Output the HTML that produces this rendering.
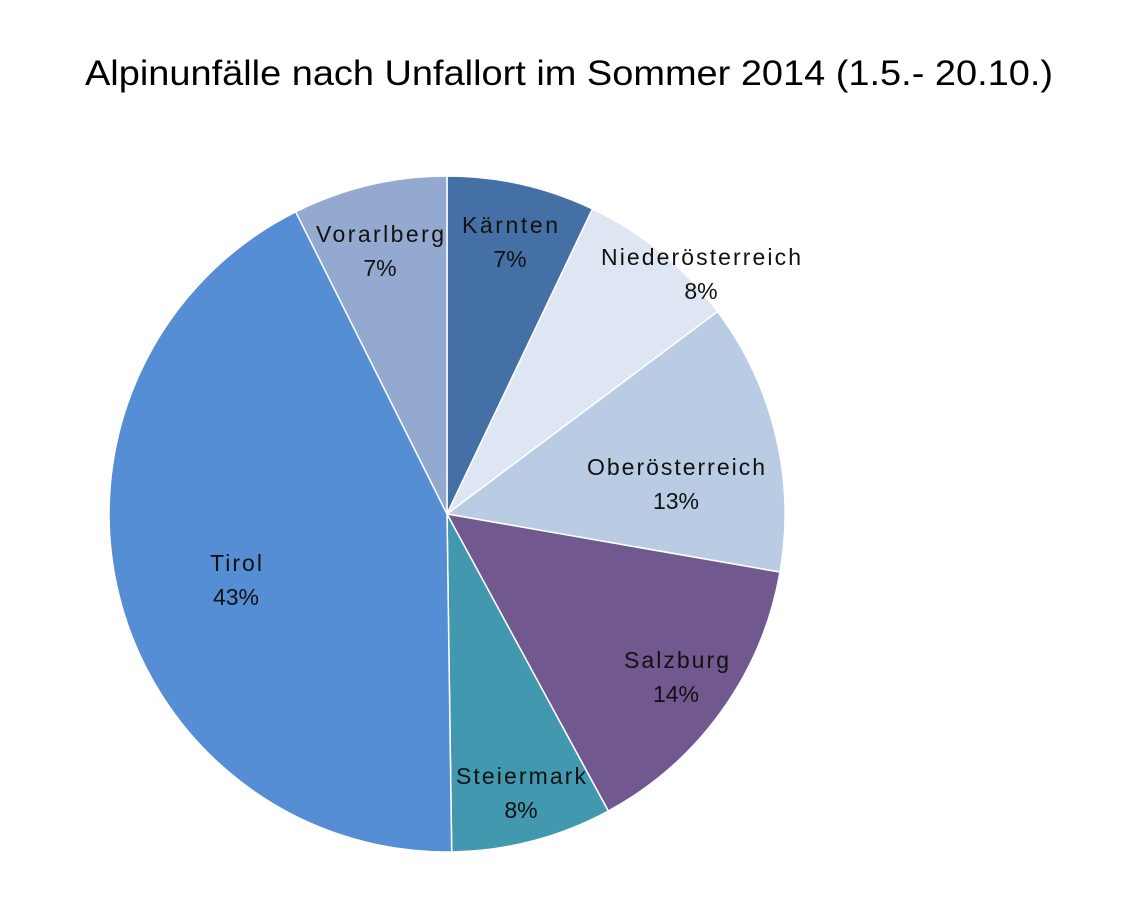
<!DOCTYPE html>
<html><head><meta charset="utf-8"><style>
body{margin:0;background:#fff;}
svg{display:block;font-family:"Liberation Sans","DejaVu Sans",sans-serif;}
</style></head><body>
<svg width="1134" height="917" viewBox="0 0 1134 917">
<text x="85" y="85" font-size="35" fill="#000" textLength="968" lengthAdjust="spacingAndGlyphs">Alpinunfälle nach Unfallort im Sommer 2014 (1.5.- 20.10.)</text>
<g stroke="#fff" stroke-width="1.5">
<path d="M447,514 L447,176 A338,338 0 0 1 592.5,208.9 Z" fill="#4470a6"/>
<path d="M447,514 L592.5,208.9 A338,338 0 0 1 717.6,311.5 Z" fill="#dde6f2"/>
<path d="M447,514 L717.6,311.5 A338,338 0 0 1 780,572.1 Z" fill="#b9cce4"/>
<path d="M447,514 L780,572.1 A338,338 0 0 1 608.3,811 Z" fill="#71588f"/>
<path d="M447,514 L608.3,811 A338,338 0 0 1 451.7,852 Z" fill="#4198af"/>
<path d="M447,514 L451.7,852 A338,338 0 0 1 295.7,211.8 Z" fill="#558ed5"/>
<path d="M447,514 L295.7,211.8 A338,338 0 0 1 447,176 Z" fill="#93a9cf"/>
</g>
<g font-size="23" fill="#111" lengthAdjust="spacingAndGlyphs">
<text x="462" y="233" textLength="96">Kärnten</text><text x="510" y="267" text-anchor="middle">7%</text>
<text x="601" y="265" textLength="200">Niederösterreich</text><text x="701" y="299" text-anchor="middle">8%</text>
<text x="587" y="475" textLength="178">Oberösterreich</text><text x="676" y="509" text-anchor="middle">13%</text>
<text x="624" y="668" textLength="105">Salzburg</text><text x="676" y="702" text-anchor="middle">14%</text>
<text x="456" y="784" textLength="130">Steiermark</text><text x="521" y="818" text-anchor="middle">8%</text>
<text x="210" y="571" textLength="52">Tirol</text><text x="236" y="605" text-anchor="middle">43%</text>
<text x="316" y="242" textLength="128">Vorarlberg</text><text x="380" y="276" text-anchor="middle">7%</text>
</g>
</svg>
</body></html>
